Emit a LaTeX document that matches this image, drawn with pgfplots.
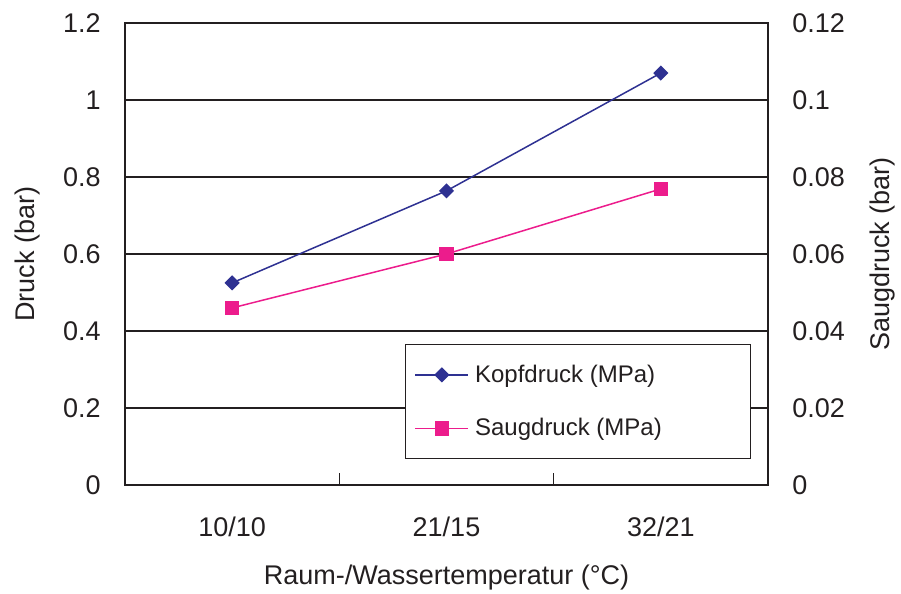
\documentclass[border=0pt]{standalone}
\usepackage{fontspec}
\setmainfont{Liberation Sans}
\usepackage{pgfplots}
\pgfplotsset{compat=1.18}

\definecolor{kopf}{HTML}{2E3192}
\definecolor{saug}{HTML}{EC1C8C}
\definecolor{ink}{HTML}{231F20}

\pgfplotsset{
  base/.style={
    scale only axis, width=321.5pt, height=231pt,
    xmin=-0.5, xmax=2.5, ymin=0,
    tick label style={font=\fontsize{13.5}{16}\selectfont, text=ink,
      /pgf/number format/assume math mode=true},
    label style={font=\fontsize{13.5}{16}\selectfont, text=ink},
    axis line style={ink, line width=0.9pt},
    major tick length=0pt,
    scaled y ticks=false,
    yticklabel style={/pgf/number format/fixed},
  },
  limage/.style={
    legend image code/.code={%
      \draw[mark repeat=2, mark phase=2, ##1]
        plot coordinates {(0pt,0pt) (13.25pt,0pt) (26.5pt,0pt)};}
  },
}

\begin{document}
\begin{tikzpicture}
% left axis: Kopfdruck
\begin{axis}[base,
  ymax=1.2, ytick={0,0.2,0.4,0.6,0.8,1,1.2},
  ymajorgrids, grid style={ink, line width=0.8pt},
  xtick={0,1,2}, xticklabels={10/10,21/15,32/21},
  minor xtick={0.5,1.5}, minor tick length=6pt, tick align=inside,
  minor x tick style={ink, line width=0.6pt},
  xtick pos=bottom, ytick pos=left,
  xticklabel style={anchor=center, yshift=-21pt},
  yticklabel style={anchor=east, inner sep=0pt, xshift=-12pt},
  xlabel={Raum-/Wassertemperatur (°C)},
  xlabel style={at={(axis description cs:0.5,0)}, anchor=center, yshift=-46.5pt},
  ylabel={Druck (bar)},
  ylabel style={at={(axis description cs:0,0.5)}, anchor=center, yshift=48.5pt},
]
\addplot[kopf, line width=0.75pt, mark=square*, mark size=2.3pt,
  mark options={rotate=45, fill=kopf}]
  coordinates {(0,0.525) (1,0.764) (2,1.070)};
\end{axis}
% right axis: Saugdruck
\begin{axis}[base,
  ymax=0.12, ytick={0,0.02,0.04,0.06,0.08,0.1,0.12},
  axis x line=none, axis y line*=right,
  yticklabel style={anchor=west, inner sep=0pt, xshift=12pt},
  ylabel={Saugdruck (bar)},
  ylabel style={at={(axis description cs:1,0.5)}, anchor=center, yshift=-57.5pt},
  limage,
  legend style={at={(axis description cs:0.4355,0.305)}, anchor=north west,
    draw=ink, line width=0.6pt, fill=white,
    font=\fontsize{12}{14}\selectfont, text=ink,
    inner xsep=4.5pt, inner ysep=8pt, row sep=12.5pt, column sep=1pt,
    nodes={inner xsep=2pt, inner ysep=2pt}},
  legend cell align=left,
]
\addlegendimage{kopf, line width=0.75pt, mark=square*, mark size=2.3pt,
  mark options={rotate=45, fill=kopf}}
\addlegendentry{\makebox[131pt][l]{Kopfdruck (MPa)}}
\addplot[saug, line width=0.75pt, mark=square*, mark size=3.25pt,
  mark options={fill=saug}]
  coordinates {(0,0.046) (1,0.060) (2,0.0769)};
\addlegendentry{\makebox[131pt][l]{Saugdruck (MPa)}}
\end{axis}
\pgfresetboundingbox
\path[use as bounding box] (-62.5pt,-54.5pt) rectangle (388pt,242.5pt);
\end{tikzpicture}
\end{document}
